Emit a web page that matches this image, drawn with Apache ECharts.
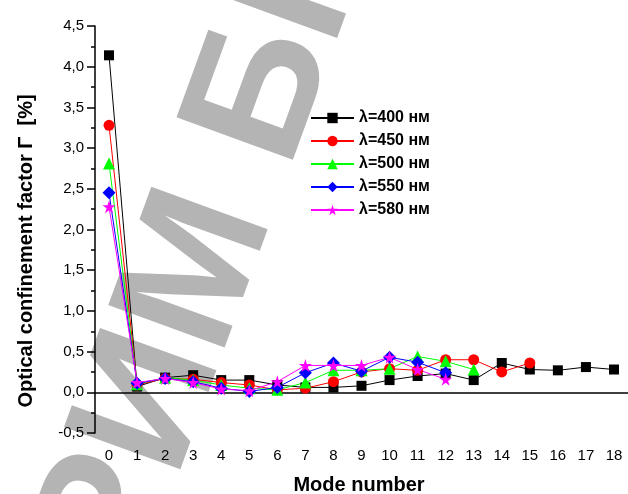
<!DOCTYPE html>
<html><head><meta charset="utf-8">
<script src="https://cdn.jsdelivr.net/npm/echarts@6/dist/echarts.min.js"></script>
<style>html,body{margin:0;padding:0;background:#fff}#c{width:628px;height:494px}</style>
</head><body><div id="c"></div>
<script>
var modes = ['0','1','2','3','4','5','6','7','8','9','10','11','12','13','14','15','16','17','18'];
var yTicks = [-0.5, 4.5, 0.5];
var names = ['λ=400 нм','λ=450 нм','λ=500 нм','λ=550 нм','λ=580 нм'];
var l400 = [4.14,0.07,0.18,0.21,0.15,0.15,0.09,0.06,0.06,0.08,0.15,0.20,0.23,0.15,0.36,0.28,0.27,0.31,0.28];
var l450 = [3.28,0.09,0.17,0.16,0.12,0.09,0.03,0.05,0.13,0.25,0.29,0.27,0.40,0.40,0.25,0.36];
var l500 = [2.81,0.10,0.18,0.15,0.09,0.05,0.03,0.12,0.27,0.27,0.29,0.44,0.38,0.28];
var l550 = [2.45,0.11,0.17,0.13,0.05,0.01,0.06,0.24,0.36,0.26,0.43,0.37,0.24];
var l580 = [2.28,0.12,0.17,0.12,0.04,0.02,0.13,0.33,0.33,0.33,0.43,0.28,0.16];

var star = 'path://M50,0 L61,35 L98,35 L68,57 L79,91 L50,70 L21,91 L32,57 L2,35 L39,35 Z';
var colors = ['#000000','#ff0000','#00ff00','#0000ff','#ff00ff'];
var symbols = ['rect','circle','triangle','diamond',star];
var sizes = [10,11,12,13,13];
var datas = [l400,l450,l500,l550,l580];

var series = names.map(function(n,i){
  return {name:n,type:'line',data:datas[i],symbol:symbols[i],symbolSize:sizes[i],
    showAllSymbol:true,animation:false,
    itemStyle:{color:colors[i]},lineStyle:{color:colors[i],width:1}};
});

var chart = echarts.init(document.getElementById('c'));
chart.setOption({
  backgroundColor:'#fff',
  animation:false,
  grid:{left:95,top:26,width:541,bottom:61,containLabel:false},
  xAxis:{type:'category',data:modes,boundaryGap:true,
    axisLine:{lineStyle:{color:'#000',width:1.5}},
    axisTick:{alignWithLabel:true,length:7,lineStyle:{color:'#000',width:1.5}},
    axisLabel:{color:'#000',fontSize:15,fontFamily:'Arial',margin:15,interval:0},
    splitLine:{show:false}},
  yAxis:{type:'value',min:yTicks[0],max:yTicks[1],interval:yTicks[2],
    axisLine:{show:true,lineStyle:{color:'#000',width:1.5}},
    axisTick:{show:true,length:8,lineStyle:{color:'#000',width:1.5}},
    minorTick:{show:true,splitNumber:2,length:4,lineStyle:{color:'#000',width:1.5}},
    axisLabel:{color:'#000',fontSize:15,fontFamily:'Arial',margin:11,
      formatter:function(v){return v.toFixed(1).replace('.',',');}},
    splitLine:{show:false}},
  legend:{orient:'vertical',left:310,top:110,padding:0,itemWidth:43,itemHeight:13,itemGap:7,
    textStyle:{color:'#000',fontSize:16,fontWeight:'bold',fontFamily:'Arial'},
    data:names},
  graphic:[
    {type:'text',z:-10,x:173,y:607,rotation:70*Math.PI/180,silent:true,
      style:{text:'РИМ БР',font:'bold 180px Arial',fill:'#b4b4b4',verticalAlign:'bottom'}},
    {type:'text',x:359,y:485,style:{text:'Mode number',font:'bold 20px Arial',fill:'#000',align:'center',verticalAlign:'middle'}},
    {type:'text',x:26,y:251,rotation:Math.PI/2,style:{text:'Optical confinement factor Γ  [%]',font:'bold 20px Arial',fill:'#000',align:'center',verticalAlign:'middle'}}
  ],
  series:series
});
</script>
</body></html>
